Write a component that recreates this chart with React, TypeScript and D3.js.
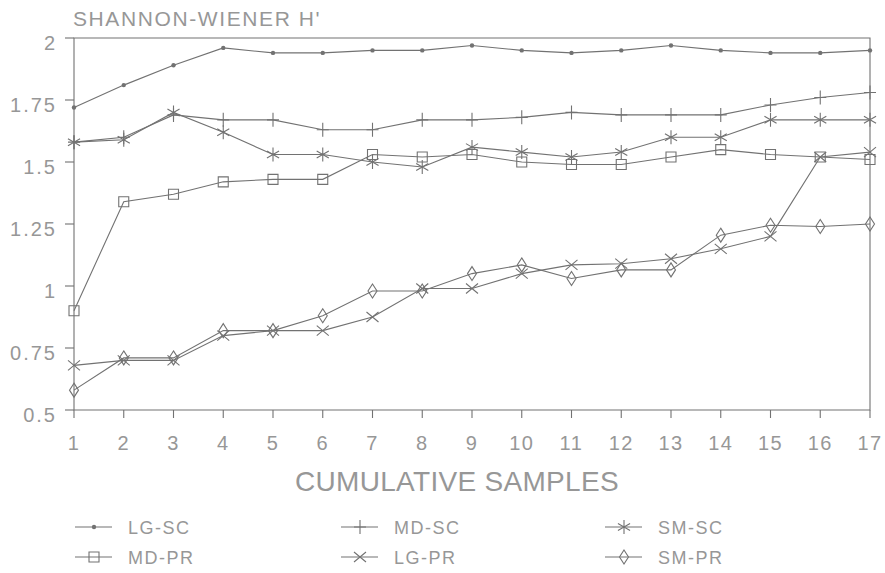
import React from "react";
import * as d3 from "d3";

const samples = [1, 2, 3, 4, 5, 6, 7, 8, 9, 10, 11, 12, 13, 14, 15, 16, 17];
const yTicks = [0.5, 0.75, 1, 1.25, 1.5, 1.75, 2];
const yTickLabels = ["0.5", "0.75", "1", "1.25", "1.5", "1.75", "2"];

const lgSC = [1.72, 1.81, 1.89, 1.96, 1.94, 1.94, 1.95, 1.95, 1.97, 1.95, 1.94, 1.95, 1.97, 1.95, 1.94, 1.94, 1.95];
const mdSC = [1.58, 1.6, 1.69, 1.67, 1.67, 1.63, 1.63, 1.67, 1.67, 1.68, 1.7, 1.69, 1.69, 1.69, 1.73, 1.76, 1.78];
const smSC = [1.58, 1.59, 1.7, 1.62, 1.53, 1.53, 1.5, 1.48, 1.56, 1.54, 1.52, 1.54, 1.6, 1.6, 1.67, 1.67, 1.67];
const mdPR = [0.9, 1.34, 1.37, 1.42, 1.43, 1.43, 1.53, 1.52, 1.53, 1.5, 1.49, 1.49, 1.52, 1.55, 1.53, 1.52, 1.51];
const lgPR = [0.68, 0.7, 0.7, 0.8, 0.82, 0.82, 0.875, 0.99, 0.99, 1.05, 1.085, 1.09, 1.11, 1.15, 1.2, 1.52, 1.54];
const smPR = [0.58, 0.71, 0.71, 0.82, 0.82, 0.88, 0.98, 0.98, 1.05, 1.085, 1.03, 1.065, 1.065, 1.205, 1.245, 1.24, 1.25];

const seriesNames = ["LG-SC", "MD-SC", "SM-SC", "MD-PR", "LG-PR", "SM-PR"];
const seriesValues = [lgSC, mdSC, smSC, mdPR, lgPR, smPR];
const seriesMarkers = ["dot", "plus", "star", "square", "cross", "diamond"];

const INK = "#727272";
const TEXT = "#979797";
const FONT = "'Liberation Sans', Arial, sans-serif";

function markerPath(kind: string, x: number, y: number): string {
  switch (kind) {
    case "plus":
      return `M${x},${y - 7}V${y + 7}M${x - 6},${y}H${x + 6}`;
    case "star": {
      let p = `M${x},${y - 7}V${y + 7}`;
      [30, 150].forEach((a) => {
        const r = (a * Math.PI) / 180;
        const dx = 7 * Math.cos(r), dy = 7 * Math.sin(r);
        p += `M${x - dx},${y - dy}L${x + dx},${y + dy}`;
      });
      return p;
    }
    case "square":
      return `M${x - 5},${y - 5}h10v10h-10Z`;
    case "cross":
      return `M${x - 6},${y - 5}L${x + 6},${y + 5}M${x - 6},${y + 5}L${x + 6},${y - 5}`;
    case "diamond":
      return `M${x},${y - 7}L${x + 4.5},${y}L${x},${y + 7}L${x - 4.5},${y}Z`;
    default:
      return "";
  }
}

function Marker({ kind, x, y }: { kind: string; x: number; y: number }) {
  if (kind === "dot") return <circle cx={x} cy={y} r={2.2} fill={INK} />;
  return <path d={markerPath(kind, x, y)} fill="none" stroke={INK} strokeWidth={1.1} />;
}

export default function App() {
  const W = 885, H = 573;
  const left = 74, right = 870, top = 38, bottom = 410;
  const x = d3.scaleLinear().domain([1, 17]).range([left, right]);
  const y = d3.scaleLinear().domain([0.5, 2]).range([bottom, top]);
  const line = d3.line<number>().x((_, i) => x(samples[i])).y((d) => y(d));

  const legendCols = [75, 341, 605];
  const legendRows = [527, 557];

  return (
    <svg width={W} height={H} style={{ position: "absolute", left: 0, top: 0, background: "white" }}>
      <rect width={W} height={H} fill="white" />
      <text x={73} y={26} fontFamily={FONT} fontSize={21} fill={TEXT} letterSpacing={1.6}>SHANNON-WIENER H'</text>
      {/* frame */}
      <path d={`M${left},${top}H${right}V${bottom}H${left}Z`} fill="none" stroke={INK} strokeWidth={1.1} />
      {/* y ticks */}
      {yTicks.map((t, i) => (
        <g key={t}>
          <line x1={left - 9} x2={left} y1={y(t)} y2={y(t)} stroke={INK} strokeWidth={1.1} />
          <text x={57} y={y(t) + 12} textAnchor="end" fontFamily={FONT} fontSize={20} fill={TEXT} letterSpacing={2}>{yTickLabels[i]}</text>
        </g>
      ))}
      {/* x ticks */}
      {samples.map((s) => (
        <g key={s}>
          <line x1={x(s)} x2={x(s)} y1={bottom} y2={bottom + 8} stroke={INK} strokeWidth={1.1} />
          <text x={x(s)} y={450} textAnchor="middle" fontFamily={FONT} fontSize={20} fill={TEXT} letterSpacing={1.5}>{s}</text>
        </g>
      ))}
      <text x={457} y={491} textAnchor="middle" fontFamily={FONT} fontSize={28} fill={TEXT} letterSpacing={0.3}>CUMULATIVE SAMPLES</text>
      {/* series */}
      {seriesValues.map((vals, si) => (
        <g key={seriesNames[si]}>
          <path d={line(vals) || ""} fill="none" stroke={INK} strokeWidth={1.1} />
          {vals.map((v, i) => (
            <Marker key={i} kind={seriesMarkers[si]} x={x(samples[i])} y={y(v)} />
          ))}
        </g>
      ))}
      {/* legend */}
      {seriesNames.map((name, i) => {
        const cx = legendCols[i % 3];
        const cy = legendRows[Math.floor(i / 3)];
        return (
          <g key={name}>
            <line x1={cx} x2={cx + 37} y1={cy} y2={cy} stroke={INK} strokeWidth={1.1} />
            <Marker kind={seriesMarkers[i]} x={cx + 19} y={cy} />
            <text x={cx + 53} y={cy + 6.5} fontFamily={FONT} fontSize={18} fill={TEXT} letterSpacing={1.5}>{name}</text>
          </g>
        );
      })}
    </svg>
  );
}
